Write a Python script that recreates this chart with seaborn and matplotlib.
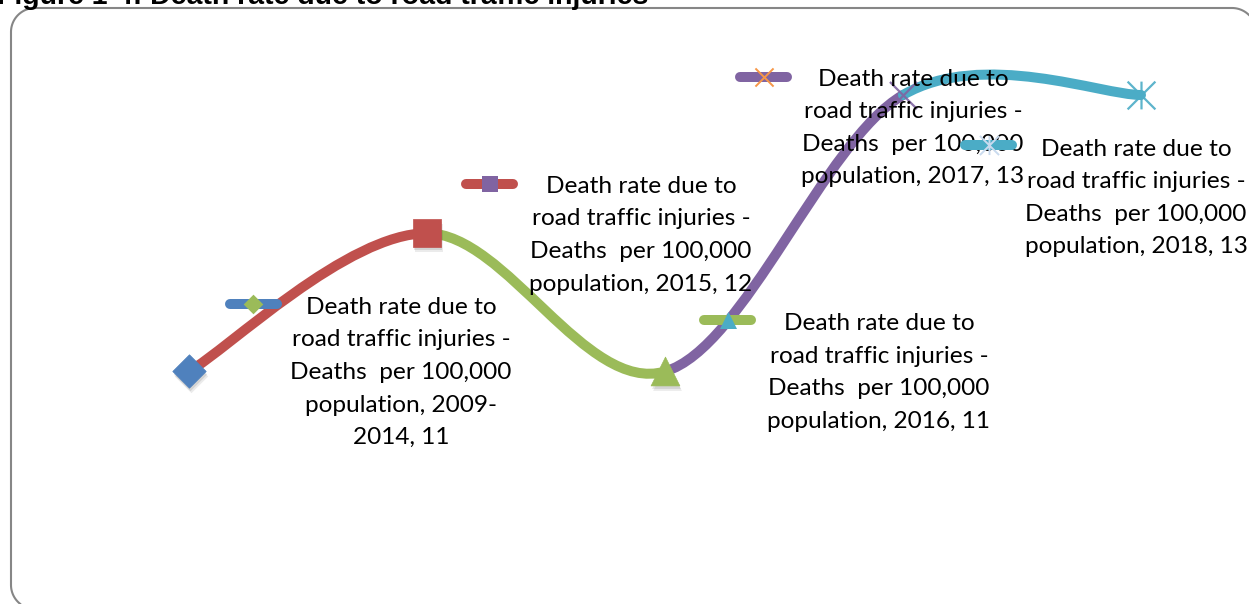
import numpy as np
import pandas as pd
import matplotlib
matplotlib.use("Agg")
import matplotlib.pyplot as plt
import seaborn as sns
from matplotlib.path import Path
from matplotlib.patches import PathPatch
from matplotlib.lines import Line2D
from matplotlib.transforms import IdentityTransform, offset_copy

# ---- data -------------------------------------------------------------
periods = ["2009-2014", "2015", "2016", "2017", "2018"]
death_rate = [11, 12, 11, 13, 13]
series_lines = ["Death rate due to", "road traffic injuries -", "Deaths  per 100,000"]
title = "Figure 1-4: Death rate due to road traffic injuries"

# per-point styling (Office palette)
point_colors = ["#4F81BD", "#C0504D", "#9BBB59", "#8064A2", "#4BACC6"]
key_marker_colors = ["#9BBB59", "#8064A2", "#4BACC6", "#F79646", "#C9DAEE"]

# ---- figure -------------------------------------------------------------
W, H = 1249, 604
sns.set_theme(style="white")
plt.rcParams["font.family"] = ["Lato", "DejaVu Sans"]

fig = plt.figure(figsize=(W / 100, H / 100), dpi=100)
ax = fig.add_axes([20 / W, 14 / H, 1220 / W, 570 / H])
ax.set_xlim(-0.7101, 4.4160)
ax.set_ylim(9.4195, 13.5425)
ax.axis("off")

df = pd.DataFrame({"period": periods, "rate": death_rate})
df["pos"] = np.arange(len(df))

# smoothed line, each segment in the colour of the point it reaches
pts = df[["pos", "rate"]].to_numpy(dtype=float)
n = len(pts)
for i in range(n - 1):
    p_prev = pts[max(i - 1, 0)]
    p0, p1 = pts[i], pts[i + 1]
    p_next = pts[min(i + 2, n - 1)]
    c1 = p0 + (p1 - p_prev) / 6.0
    c2 = p1 - (p_next - p0) / 6.0
    path = Path([p0, c1, c2, p1], [Path.MOVETO, Path.CURVE4, Path.CURVE4, Path.CURVE4])
    ax.add_patch(PathPatch(path, fill=False, edgecolor=point_colors[i + 1], lw=7.2,
                           capstyle="round", joinstyle="round", zorder=2))

# asterisk marker: vertical stroke plus both diagonals
asterisk = Path([(0, -1), (0, 1), (-1, -1), (1, 1), (-1, 1), (1, -1)],
                [Path.MOVETO, Path.LINETO] * 3)

marker_specs = [
    dict(marker="D", s=290, filled=True),
    dict(marker="s", s=400, filled=True),
    dict(marker="^", s=430, filled=True),
    dict(marker="x", s=380, filled=False),
    dict(marker=asterisk, s=400, filled=False),
]
key_specs = [
    dict(marker="D", s=100, filled=True),
    dict(marker="s", s=120, filled=True),
    dict(marker="^", s=150, filled=True),
    dict(marker="x", s=170, filled=False),
    dict(marker=asterisk, s=190, filled=False),
]

# soft drop shadows below the filled markers
for i, spec in enumerate(marker_specs):
    if spec["filled"]:
        for ox, oy, a in [(1, -3, 0.10), (2, -5, 0.08)]:
            sh = offset_copy(ax.transData, fig=fig, x=ox, y=oy, units="dots")
            ax.scatter(df["pos"][i], df["rate"][i], marker=spec["marker"], s=spec["s"],
                       color="#000000", alpha=a, linewidths=0, transform=sh, zorder=3)

for i, spec in enumerate(marker_specs):
    row = df.iloc[[i]]
    if spec["filled"]:
        sns.scatterplot(data=row, x="pos", y="rate", marker=spec["marker"], s=spec["s"],
                        color=point_colors[i], edgecolor=point_colors[i], linewidth=0.5,
                        ax=ax, zorder=4, legend=False)
    else:
        sns.scatterplot(data=row, x="pos", y="rate", marker=spec["marker"], s=spec["s"],
                        color=point_colors[i], edgecolor=point_colors[i], linewidth=1.6,
                        alpha=0.9, ax=ax, zorder=4, legend=False)

# data labels (offsets in pixels from each point)
label_offsets = [(212, -1), (214, -2), (214, -1), (10, -33), (-5, -103)]
key_offsets = [(64, 67), (63, 49), (63, 51), (-139, 18), (-152, -50)]


def label_text(period, value):
    lines = list(series_lines)
    if "-" in period:
        head, tail = period.split("-", 1)
        lines += [f"population, {head}-", f"{tail}, {value}"]
    else:
        lines.append(f"population, {period}, {value}")
    return "\n".join(lines)


for i, (period, value) in enumerate(zip(periods, death_rate)):
    dx, dy = label_offsets[i]
    tr = offset_copy(ax.transData, fig=fig, x=dx, y=dy, units="dots")
    ax.text(i, value, label_text(period, value), transform=tr, ha="center", va="center",
            multialignment="center", fontsize=17.6, color="#000000", linespacing=1.68,
            zorder=5)

    # legend key beside each label
    px, py = ax.transData.transform((i, value))
    kx, ky = px + key_offsets[i][0], py + key_offsets[i][1]
    ax.add_line(Line2D([kx - 23.5, kx + 23.5], [ky, ky], transform=IdentityTransform(),
                       color=point_colors[i], lw=7.2, solid_capstyle="round", zorder=6,
                       clip_on=False))
    spec = key_specs[i]
    ktr = offset_copy(ax.transData, fig=fig, x=key_offsets[i][0], y=key_offsets[i][1],
                      units="dots")
    ax.scatter(i, value, marker=spec["marker"], s=spec["s"], facecolor=key_marker_colors[i],
               edgecolor=key_marker_colors[i], linewidths=0 if spec["filled"] else 1.4,
               transform=ktr, zorder=7, clip_on=False)


# rounded frame around the chart area; only the part inside the canvas is kept
def rounded_frame(x0, y0, x1, y1, r, steps=40):
    def arc(cx, cy, a0, a1):
        t = np.linspace(np.radians(a0), np.radians(a1), steps)
        return np.column_stack([cx + r * np.cos(t), cy + r * np.sin(t)])

    v = np.vstack([
        arc(x1 - r, y1 - r, 0, 90),      # top-right
        arc(x0 + r, y1 - r, 90, 180),    # top-left
        arc(x0 + r, y0 + r, 180, 270),   # bottom-left
    ])
    keep = (v[:, 0] <= W + 0.5) & (v[:, 1] >= -0.5)
    return v[keep]


fv = rounded_frame(11, -5, 1256, 596, 24)
fig.add_artist(Line2D(fv[:, 0], fv[:, 1], transform=IdentityTransform(), color="#868686",
                      lw=1.5, solid_joinstyle="round", zorder=0))

fig.text(-3 / W, (H - 3.5) / H, title, ha="left", va="baseline", fontsize=20.5,
         fontweight="bold", family=["Liberation Sans", "DejaVu Sans"], color="#000000")

fig.savefig("out.png", dpi=100)
